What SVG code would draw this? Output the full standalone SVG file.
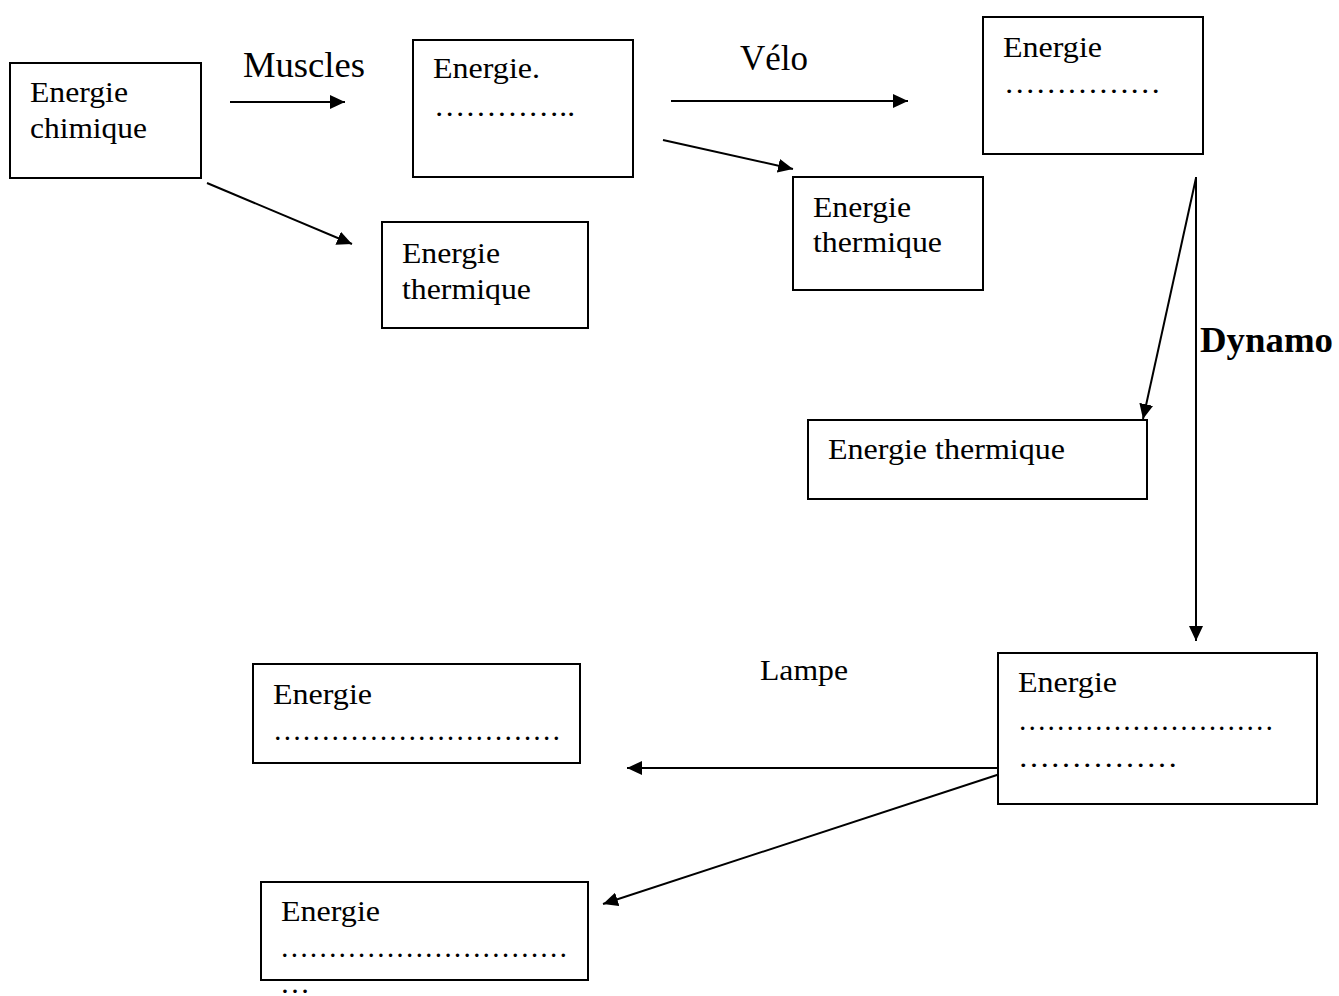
<svg xmlns="http://www.w3.org/2000/svg" width="1339" height="996" viewBox="0 0 1339 996">
<style>
.box{fill:#fff;stroke:#000;stroke-width:2}
.t{font-family:"Liberation Serif","Times New Roman",serif;font-size:30px;fill:#000}
.lbl{font-family:"Liberation Serif","Times New Roman",serif;font-size:35px;fill:#000}
.b{font-weight:bold}
.c{stroke:#000;stroke-width:2;fill:none;marker-end:url(#ah)}
</style>
<defs>
<marker id="ah" markerUnits="userSpaceOnUse" markerWidth="16" markerHeight="14" refX="15" refY="7" orient="auto">
<path d="M0,0 L15,7 L0,14 z" fill="#000"/>
</marker>
</defs>
<rect width="1339" height="996" fill="#fff"/>
<g id="connectors">
<line class="c" x1="230" y1="102" x2="345" y2="102"/>
<line class="c" x1="207" y1="183" x2="352" y2="244"/>
<line class="c" x1="671" y1="101" x2="908" y2="101"/>
<line class="c" x1="663" y1="140" x2="793" y2="169"/>
<line class="c" x1="1196" y1="177" x2="1196" y2="641"/>
<line class="c" x1="1196" y1="178" x2="1143" y2="419"/>
<line class="c" x1="1000" y1="768" x2="627" y2="768"/>
<line class="c" x1="1000" y1="774" x2="603" y2="904"/>
</g>
<g id="label-muscles"><text class="lbl" x="243" y="77" textLength="122" lengthAdjust="spacingAndGlyphs">Muscles</text></g>
<g id="label-velo"><text class="lbl" x="740" y="70" textLength="68" lengthAdjust="spacingAndGlyphs">Vélo</text></g>
<g id="label-dynamo"><text class="lbl b" x="1200" y="352" textLength="133" lengthAdjust="spacingAndGlyphs">Dynamo</text></g>
<g id="label-lampe"><text class="t" x="760" y="680" font-size="28" textLength="88" lengthAdjust="spacingAndGlyphs">Lampe</text></g>
<g id="node-chimique">
<rect class="box" x="10" y="63" width="191" height="115"/>
<text class="t" x="30" y="102" textLength="98" lengthAdjust="spacingAndGlyphs">Energie</text>
<text class="t" x="30" y="138" textLength="117" lengthAdjust="spacingAndGlyphs">chimique</text>
</g>
<g id="node-energie2">
<rect class="box" x="413" y="40" width="220" height="137"/>
<text class="t" x="433" y="78" textLength="107" lengthAdjust="spacingAndGlyphs">Energie.</text>
<text class="t" x="434" y="116" textLength="141" lengthAdjust="spacingAndGlyphs">…………..</text>
</g>
<g id="node-thermique1">
<rect class="box" x="382" y="222" width="206" height="106"/>
<text class="t" x="402" y="263" textLength="98" lengthAdjust="spacingAndGlyphs">Energie</text>
<text class="t" x="402" y="299" textLength="129" lengthAdjust="spacingAndGlyphs">thermique</text>
</g>
<g id="node-thermique2">
<rect class="box" x="793" y="177" width="190" height="113"/>
<text class="t" x="813" y="217" textLength="98" lengthAdjust="spacingAndGlyphs">Energie</text>
<text class="t" x="813" y="252" textLength="129" lengthAdjust="spacingAndGlyphs">thermique</text>
</g>
<g id="node-energie3">
<rect class="box" x="983" y="17" width="220" height="137"/>
<text class="t" x="1003" y="57" textLength="99" lengthAdjust="spacingAndGlyphs">Energie</text>
<text class="t" x="1004" y="93" textLength="157" lengthAdjust="spacingAndGlyphs">……………</text>
</g>
<g id="node-thermique3">
<rect class="box" x="808" y="420" width="339" height="79"/>
<text class="t" x="828" y="459" textLength="237" lengthAdjust="spacingAndGlyphs">Energie thermique</text>
</g>
<g id="node-energie4">
<rect class="box" x="998" y="653" width="319" height="151"/>
<text class="t" x="1018" y="692" textLength="99" lengthAdjust="spacingAndGlyphs">Energie</text>
<text class="t" x="1018" y="730" textLength="256" lengthAdjust="spacingAndGlyphs">………………………</text>
<text class="t" x="1018" y="767" textLength="160" lengthAdjust="spacingAndGlyphs">……………</text>
</g>
<g id="node-energie5">
<rect class="box" x="253" y="664" width="327" height="99"/>
<text class="t" x="273" y="704" textLength="99" lengthAdjust="spacingAndGlyphs">Energie</text>
<text class="t" x="273" y="740" textLength="288" lengthAdjust="spacingAndGlyphs">…………………………</text>
</g>
<g id="node-energie6">
<rect class="box" x="261" y="882" width="327" height="98"/>
<text class="t" x="281" y="921" textLength="99" lengthAdjust="spacingAndGlyphs">Energie</text>
<text class="t" x="280" y="957" textLength="288" lengthAdjust="spacingAndGlyphs">…………………………</text>
<text class="t" x="280" y="993" textLength="30" lengthAdjust="spacingAndGlyphs">…</text>
</g>
</svg>
